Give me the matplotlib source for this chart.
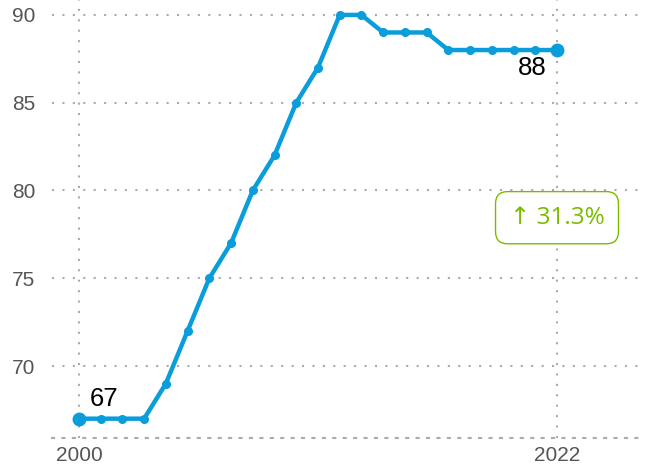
import matplotlib.pyplot as plt

years = list(range(2000, 2023))
values = [67, 67, 67, 67, 69, 72, 75, 77, 80, 82, 85, 87, 90, 90, 89, 89, 89, 88, 88, 88, 88, 88, 88]
y_ticks = [70, 75, 80, 85, 90]
x_ticks = [2000, 2022]
change_label = "\u2191 31.3%"

line_color = "#0a9ddb"
grid_color = "#ababab"
green = "#7cbb00"

plt.rcParams['font.family'] = ['Liberation Sans', 'DejaVu Sans']

fig = plt.figure(figsize=(6.45, 4.69), dpi=100)
ax = fig.add_axes([52 / 645, 31 / 469, 593 / 645, 438 / 469])
ax.set_xlim(1998.76, 2026.05)
ax.set_ylim(65.9, 90.85)

for s in ['top', 'right', 'left']:
    ax.spines[s].set_visible(False)
ax.spines['bottom'].set_linestyle((0, (1, 4)))
ax.spines['bottom'].set_color(grid_color)
ax.spines['bottom'].set_linewidth(1.5)

ax.set_yticks(y_ticks)
ax.set_xticks(x_ticks)
ax.tick_params(length=0, labelsize=15, colors="#555555")
ax.tick_params(axis='y', pad=12)
ax.tick_params(axis='x', pad=6)
ax.grid(True, linestyle=(0, (1, 4)), color=grid_color, linewidth=1.5)

ax.plot(years, values, color=line_color, linewidth=3.2, marker='o', markersize=5.5,
        solid_joinstyle='round', zorder=3)
ax.plot([years[0], years[-1]], [values[0], values[-1]], 'o', color=line_color,
        markersize=9, zorder=4)

ax.text(years[0] + 0.5, values[0] + 0.45, str(values[0]), fontsize=18.5, color='black',
        ha='left', va='bottom')
ax.text(years[-1] - 0.5, values[-1] - 0.35, str(values[-1]), fontsize=18.5, color='black',
        ha='right', va='top')

ax.text(2022, 78.45, change_label, fontsize=17.5, color=green, ha='center', va='center',
        family=['Open Sans', 'DejaVu Sans'],
        bbox=dict(boxstyle='round,pad=0.58,rounding_size=0.5', fc='white', ec=green, lw=1))

fig.savefig("out.png", dpi=100)
